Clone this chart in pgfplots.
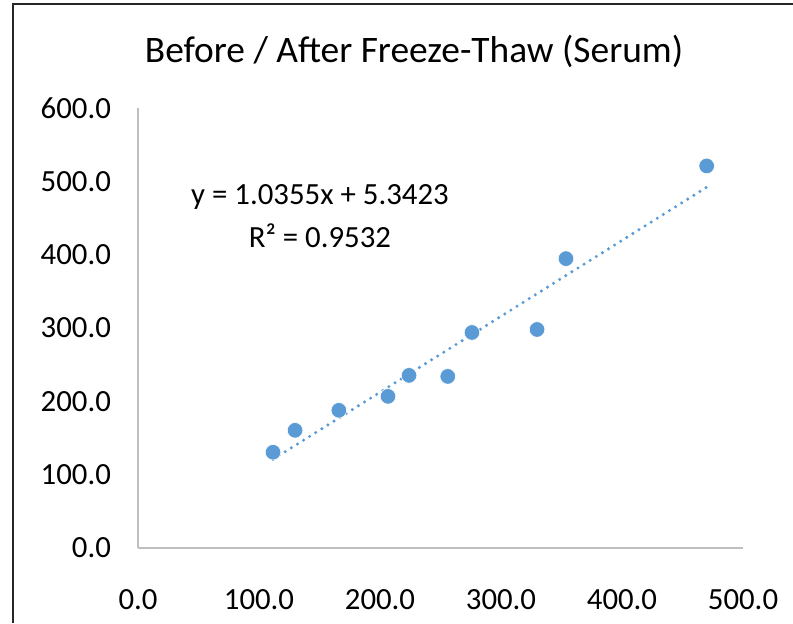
\documentclass[border=0pt]{standalone}
\usepackage{fontspec}
\setmainfont{Carlito}
\usepackage{pgfplots}
\pgfplotsset{compat=1.18}
\definecolor{xlblue}{HTML}{5B9BD5}
\definecolor{axgray}{HTML}{BFBFBF}
\begin{document}
\begin{tikzpicture}
  % page = 793 x 623 px at 0.5pt per px
  \useasboundingbox (0,0) rectangle (396.5pt,311.5pt);
  \draw[line width=1pt,black!85] (6.25pt,0) -- (6.25pt,309.25pt) -- (396.5pt,309.25pt);
  \begin{axis}[
      at={(69pt,37.5pt)}, anchor=south west,
      scale only axis, width=302.5pt, height=220pt,
      xmin=0, xmax=500, ymin=0, ymax=600,
      xtick={0,100,...,500}, ytick={0,100,...,600},
      axis lines*=left, axis line style={axgray,line width=0.9pt,-},
      tick style={draw=none},
      xticklabel style={yshift=-17pt},
      yticklabel style={xshift=-10pt},
      ticklabel style={font=\fontsize{15.4pt}{17pt}\selectfont},
      /pgf/number format/.cd, fixed, fixed zerofill, precision=1, assume math mode=true,
    ]
    \addplot[xlblue, line width=1.7pt, line cap=round, dash pattern=on 0pt off 3.6pt]
      coordinates {(111.6,120.9) (470.0,492.0)};
    \addplot[only marks, mark=*, mark size=3.9pt, mark options={fill=xlblue, draw=white, line width=0.3pt}]
      coordinates {
        (111.6,130.6) (129.8,160.5) (166.0,187.8) (206.6,206.8) (224.0,235.4)
        (256.0,234.0) (276.0,293.9) (329.8,298.0) (353.7,394.6) (470.0,521.0)
      };
    \node[font=\fontsize{15.4pt}{17pt}\selectfont] at (axis cs:150.4,479) {y = 1.0355x + 5.3423};
    \node[font=\fontsize{15.4pt}{17pt}\selectfont] at (axis cs:150.4,426) {R² = 0.9532};
  \end{axis}
  \node[font=\fontsize{18.7pt}{22pt}\selectfont] at (207pt,286pt) {Before / After Freeze-Thaw (Serum)};
\end{tikzpicture}
\end{document}
